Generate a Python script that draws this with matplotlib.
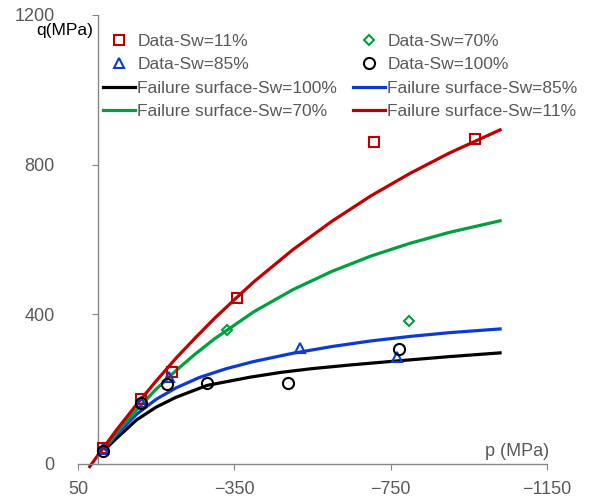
import matplotlib
matplotlib.use("Agg")
import matplotlib.pyplot as plt

plt.rcParams["font.family"] = ["Liberation Sans", "DejaVu Sans"]

# measured data points (p, q in MPa)
p_sw11 = [-14, -111, -190, -358, -707, -966]
q_sw11 = [43, 174, 246, 444, 861, 869]
p_sw85 = [-14, -111, -183, -518, -765]
q_sw85 = [40, 165, 233, 310, 286]
p_sw70 = [-331, -797]
q_sw70 = [358, 382]
p_sw100 = [-14, -111, -178, -280, -487, -771]
q_sw100 = [35, 163, 214, 217, 217, 307]

# failure surfaces
fs_p100 = [-20, -50, -100, -150, -200, -280, -390, -470, -550, -650, -750, -900, -1030]
fs_q100 = [40, 70, 118, 152, 178, 210, 232, 245, 255, 265, 274, 287, 297]
fs_p85 = [-20, -50, -100, -150, -200, -260, -330, -400, -500, -600, -700, -800, -900, -1030]
fs_q85 = [42, 80, 133, 173, 203, 231, 255, 274, 296, 314, 329, 341, 351, 361]
fs_p70 = [-20, -50, -100, -150, -200, -250, -300, -400, -500, -600, -700, -800, -900, -1030]
fs_q70 = [45, 86, 145, 200, 249, 294, 335, 407, 466, 515, 556, 590, 619, 650]
fs_p11 = [20, 0, -50, -100, -150, -200, -250, -300, -350, -400, -500, -600, -700, -800, -900, -1030]
fs_q11 = [-7, 22, 93, 159, 222, 282, 337, 390, 439, 487, 573, 649, 717, 777, 831, 893]

x_ticks = [50, -350, -750, -1150]
y_ticks = [0, 400, 800, 1200]

red, green, blue, black = "#C00000", "#00A03C", "#0A3BD8", "#000000"
grey = "#595959"

fig = plt.figure(figsize=(6, 5), dpi=100)
ax = fig.add_axes([78 / 600, 36 / 500, 469 / 600, 449 / 500])

lw = 2.3
l100, = ax.plot(fs_p100, fs_q100, color=black, lw=lw, clip_on=False, zorder=2)
l85, = ax.plot(fs_p85, fs_q85, color=blue, lw=lw, clip_on=False, zorder=2)
l70, = ax.plot(fs_p70, fs_q70, color=green, lw=lw, clip_on=False, zorder=2)
l11, = ax.plot(fs_p11, fs_q11, color=red, lw=lw, clip_on=False, zorder=2)

mk = dict(linestyle="none", mfc="none", mew=1.5, clip_on=False, zorder=3)
d11, = ax.plot(p_sw11, q_sw11, marker="s", ms=7, mec=red, **mk)
d85, = ax.plot(p_sw85, q_sw85, marker="^", ms=7, mec=blue, **mk)
d70, = ax.plot(p_sw70, q_sw70, marker="D", ms=5, mec=green, **mk)
d100, = ax.plot(p_sw100, q_sw100, marker="o", ms=8, mec=black, **mk)

ax.set_xlim(50, -1150)
ax.set_ylim(0, 1200)
ax.set_xticks(x_ticks)
ax.set_yticks(y_ticks)
ax.spines["top"].set_visible(False)
ax.spines["right"].set_visible(False)
ax.spines["left"].set_position(("data", 0))
for s in ("left", "bottom"):
    ax.spines[s].set_color("#868686")
    ax.spines[s].set_linewidth(1)
ax.tick_params(axis="both", direction="out", length=4, color="#868686",
               labelcolor=grey, labelsize=13)
ax.tick_params(axis="y", pad=27)
ax.tick_params(axis="x", pad=8)

fig.text(93 / 600, 1 - 31 / 500, "q(MPa)", ha="right", va="center",
         fontsize=12.5, color="black")
fig.text(549 / 600, 1 - 452 / 500, "p (MPa)", ha="right", va="center",
         fontsize=13, color=grey)

handles = [d11, d85, l100, l70, d70, d100, l85, l11]
labels = ["Data-Sw=11%", "Data-Sw=85%", "Failure surface-Sw=100%",
          "Failure surface-Sw=70%", "Data-Sw=70%", "Data-Sw=100%",
          "Failure surface-Sw=85%", "Failure surface-Sw=11%"]
leg = fig.legend(handles, labels, ncol=2, loc="upper left",
                 bbox_to_anchor=(103 / 600, 1 - 34 / 500), frameon=False,
                 fontsize=12.5, handlelength=1.85, handletextpad=0.12,
                 columnspacing=0.92, labelspacing=0.47, borderpad=0,
                 borderaxespad=0)
for t in leg.get_texts():
    t.set_color(grey)

fig.savefig("out.png", dpi=100)
